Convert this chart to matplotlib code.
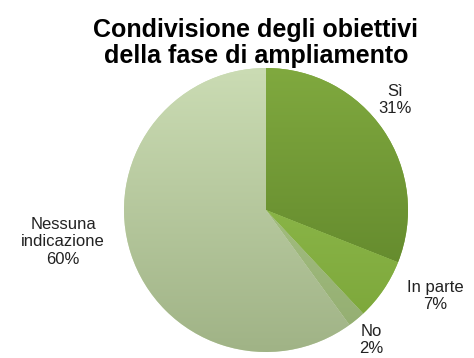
import numpy as np
import matplotlib.pyplot as plt
from matplotlib.colors import LinearSegmentedColormap

plt.rcParams['font.family'] = ['Liberation Sans', 'DejaVu Sans']

# dati
categorie = ['Sì', 'In parte', 'No', 'Nessuna\nindicazione']
valori = [31, 7, 2, 60]
# colore in alto / in basso (sfumatura verticale)
colori_alto = ['#80a93f', '#98c455', '#b2cd8d', '#cbdcb4']
colori_basso = ['#5a7f27', '#7aa438', '#92ac70', '#a0b386']

W, H = 474, 358
cx, cy, r = 266, 210, 142   # centro e raggio in pixel

fig = plt.figure(figsize=(W / 100, H / 100), dpi=100)
ax = fig.add_axes([(cx - r) / W, (H - cy - r) / H, 2 * r / W, 2 * r / H])
wedges, _ = ax.pie(valori, colors=colori_alto, startangle=90, counterclock=False,
                   radius=1, wedgeprops=dict(linewidth=0))

grad = np.linspace(1, 0, 256)[:, None]
for w, c1, c2 in zip(wedges, colori_alto, colori_basso):
    cmap = LinearSegmentedColormap.from_list('g', [c2, c1])
    im = ax.imshow(grad, cmap=cmap, extent=(-1, 1, -1, 1), aspect='auto',
                   interpolation='bilinear', zorder=2)
    im.set_clip_path(w)
    w.set_facecolor(c1)

ax.set_xlim(-1, 1)
ax.set_ylim(-1, 1)
ax.set_aspect('equal')
ax.axis('off')

# posizioni delle etichette (pixel)
pos_etichette = [(395, 100), (435, 296), (371, 340), (63, 242)]
for cat, v, (px, py) in zip(categorie, valori, pos_etichette):
    ax.text((px - cx) / r, (cy - py) / r, f'{cat}\n{v}%', ha='center', va='center',
            fontsize=12, color='#222222', linespacing=1.2, clip_on=False, zorder=5)

fig.text(256 / W, 1 - 43 / H, 'Condivisione degli obiettivi\ndella fase di ampliamento',
         ha='center', va='center', fontsize=18, fontweight='bold', linespacing=1.1,
         color='black')

fig.savefig('out.png', dpi=100)
